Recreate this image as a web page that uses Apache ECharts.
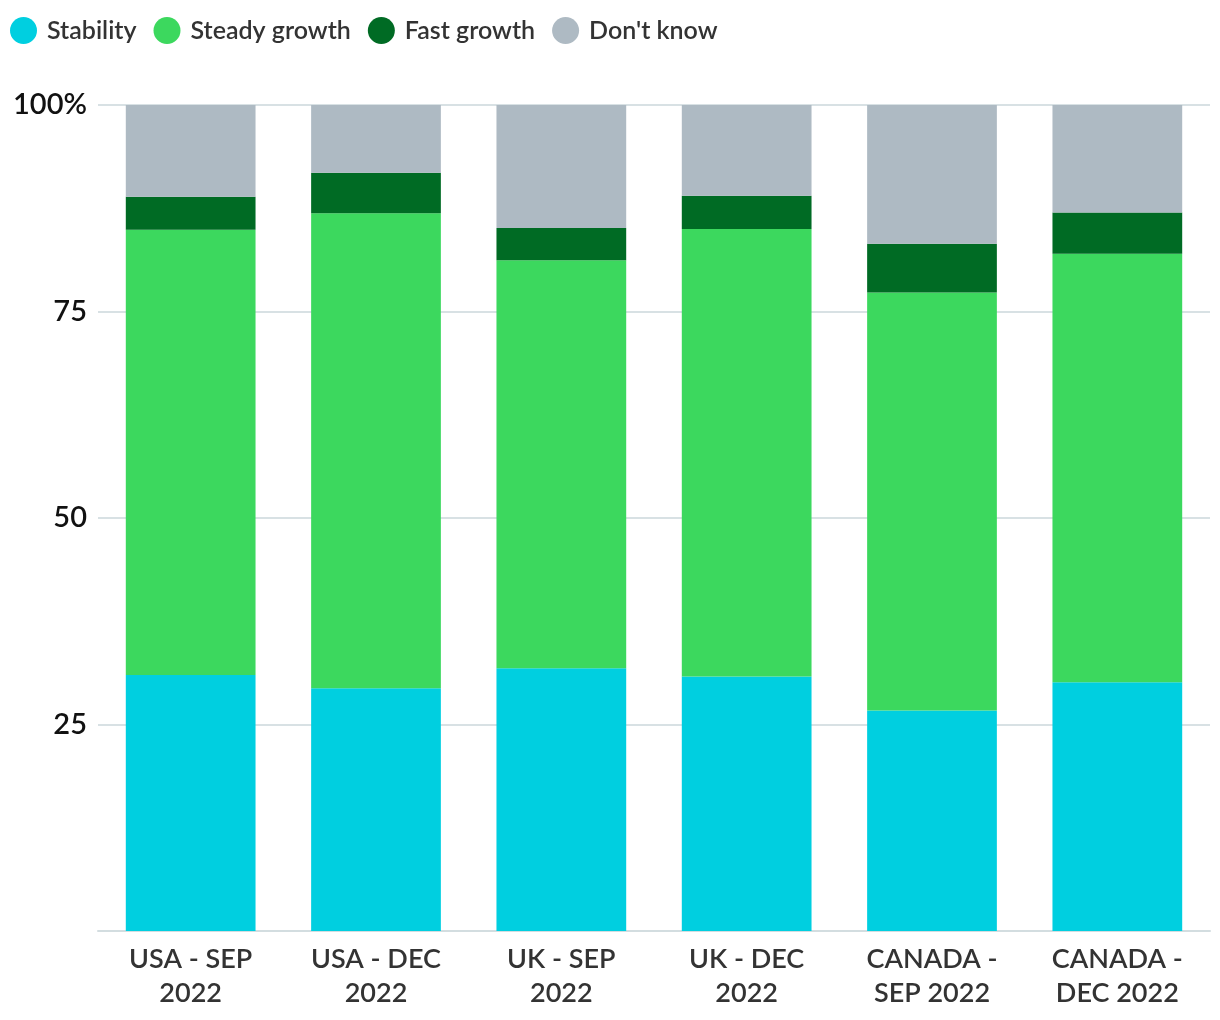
<!DOCTYPE html>
<html>
<head>
<meta charset="utf-8">
<script src="https://cdn.jsdelivr.net/npm/echarts@6/dist/echarts.min.js"></script>
<style>html,body{margin:0;padding:0;background:#fff}#c{width:1220px;height:1020px}</style>
</head>
<body>
<div id="c"></div>
<script>
const categories = ['USA - SEP\n2022', 'USA - DEC\n2022', 'UK - SEP\n2022', 'UK - DEC\n2022', 'CANADA -\nSEP 2022', 'CANADA -\nDEC 2022'];
const stability = [31, 29.4, 31.8, 30.8, 26.7, 30.1];
const steadyGrowth = [53.9, 57.5, 49.4, 54.2, 50.6, 51.9];
const fastGrowth = [4, 4.9, 3.9, 4, 5.9, 5];
const dontKnow = [11.1, 8.2, 14.9, 11, 16.8, 13];
const seriesNames = ['Stability', 'Steady growth', 'Fast growth', "Don't know"];
const colors = ['#00cfe0', '#3cd85e', '#006b24', '#aebac3'];
const yTicks = [0, 25, 50, 75, 100];

const font = 'Lato, "Noto Sans", sans-serif';
const chart = echarts.init(document.getElementById('c'));
const data = [stability, steadyGrowth, fastGrowth, dontKnow];
chart.setOption({
  animation: false,
  color: colors,
  legend: {
    left: 5, top: 12, padding: 5,
    icon: 'circle', itemWidth: 27, itemHeight: 27, itemGap: 17,
    textStyle: { fontSize: 25, color: '#333', fontFamily: font, fontWeight: 600, padding: [0, 0, 0, 5] },
    data: seriesNames
  },
  grid: { left: 98, right: 10, top: 105, bottom: 89 },
  xAxis: {
    type: 'category', data: categories,
    axisLine: { lineStyle: { color: '#d3dde0', width: 2 } },
    axisTick: { show: false },
    axisLabel: { fontSize: 27, color: '#333', fontFamily: font, lineHeight: 34, margin: 11, fontWeight: 600 }
  },
  yAxis: {
    type: 'value', min: 0, max: 100, interval: 25,
    axisLine: { show: false }, axisTick: { show: false },
    splitLine: { lineStyle: { color: '#d8e1e4', width: 2 } },
    axisLabel: {
      fontSize: 29, color: '#111', fontFamily: font, margin: 11, fontWeight: 600,
      formatter: v => (yTicks.includes(v) && v !== 0) ? (v === 100 ? '100%' : String(v)) : ''
    }
  },
  series: seriesNames.map((n, i) => ({
    name: n, type: 'bar', stack: 'total', barWidth: '70%',
    data: data[i], itemStyle: { color: colors[i] }
  }))
});
</script>
</body>
</html>
